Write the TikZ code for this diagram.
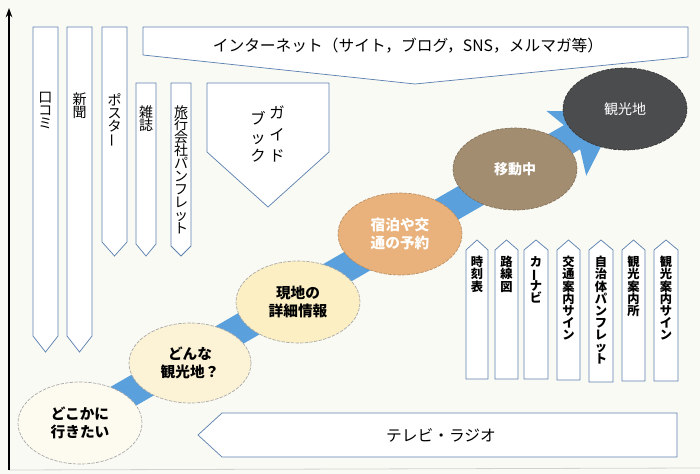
\documentclass[tikz,border=0pt]{standalone}
\usepackage{fontspec}
\usepackage{graphicx}
\usetikzlibrary{shapes.geometric,arrows.meta}
\newfontfamily\jp{Noto Sans CJK JP}
\newcommand\chouon{\rotatebox[origin=c]{90}{ー}}
\AtBeginDocument{\lineskiplimit=-20pt\relax}
\definecolor{bgc}{HTML}{FAFAF5}
\definecolor{boxc}{HTML}{5E82B0}
\definecolor{bandc}{HTML}{5AA0DC}
\definecolor{ea}{HTML}{FDFBF0}
\definecolor{eb}{HTML}{FCF3D6}
\definecolor{ec}{HTML}{FCEFC4}
\definecolor{ed}{HTML}{E9B27C}
\definecolor{ee}{HTML}{A38D70}
\definecolor{ef}{HTML}{4B4C4E}
\tikzset{
  boxline/.style={draw=boxc, line width=0.55pt, fill=white},
  vlab/.style={anchor=north, inner sep=0pt, align=center,
    font=\jp\fontsize{10.5}{9.7}\selectfont},
  vlabr/.style={anchor=north, inner sep=0pt, align=center,
    font=\jp\bfseries\fontsize{9.2}{9.1}\selectfont},
  stage/.style={ellipse, draw=gray!70, dash pattern=on 2.5pt off 1pt, line width=0.5pt,
    minimum width=93pt, minimum height=61.5pt, inner sep=0pt, align=center,
    font=\jp\bfseries\fontsize{11}{13}\selectfont},
  banner/.style={inner sep=0pt, font=\jp\fontsize{11.8}{13}\selectfont}
}
\newcommand\dnbox[5]{\draw[boxline] (#1,#3) -- (#2,#3) -- (#2,#4) -- ({(#1+#2)/2},#5) -- (#1,#4) -- cycle;}
\newcommand\upbox[5]{\draw[boxline] (#1,#5) -- (#2,#5) -- (#2,#4) -- ({(#1+#2)/2},#3) -- (#1,#4) -- cycle;}
\begin{document}
\begin{tikzpicture}[x=0.75pt,y=-0.75pt]
\useasboundingbox (0,0) rectangle (700,474);
\fill[bgc] (0,0) rectangle (700,474);
% axis
\coordinate (ax0) at (9,470);
\coordinate (ax1) at (9,8);
\coordinate (axr) at (700,468);
\draw[gray!35, line width=0.6pt] (ax0) -- (axr);
\draw[line width=0.9pt, -{Stealth[length=7pt,width=5pt]}] (ax0) -- (ax1);
% left downward boxes
\dnbox{33}{58}{27}{336}{352}
\dnbox{67}{92}{27}{336}{352}
\dnbox{102}{127}{27}{242}{256}
\dnbox{136}{156}{83}{244}{256}
\dnbox{171}{191}{83}{246}{256}
\dnbox{207}{329}{83}{152}{207}
\node[vlab] (kuchikomi) at (45.5,92) {口\\コ\\ミ};
\node[vlab] (shinbun) at (79.5,93) {新\\聞};
\node[vlab] (poster) at (114.5,93) {ポ\\ス\\タ\\\chouon};
\node[vlab] (zasshi) at (146,105) {雑\\誌};
\node[vlab] (pamph) at (181,105) {旅\\行\\会\\社\\パ\\ン\\フ\\レ\\ッ\\ト};
\node[vlab, font=\jp\fontsize{11.5}{16}\selectfont] (guide1) at (277,106) {ガ\\イ\\ド};
\node[vlab, font=\jp\fontsize{11.5}{14}\selectfont] (guide2) at (258,111) {ブ\\ッ\\ク};
% internet banner
\draw[boxline] (143,27) -- (688,27) -- (688,57) -- (415,84) -- (143,55) -- cycle;
\node[banner] (internet) at (408,46) {インターネット（サイト，ブログ，SNS，メルマガ等）};
% TV banner
\draw[boxline] (222,413) -- (677,413) -- (677,457) -- (222,457) -- (198,435) -- cycle;
\node[banner] (tv) at (441,435) {テレビ・ラジオ};
% right upward boxes
\upbox{466}{488}{240}{250}{379}
\upbox{495}{518}{240}{250}{379}
\upbox{524}{548}{240}{250}{379}
\upbox{557}{580}{240}{250}{380}
\upbox{589}{613}{240}{250}{382}
\upbox{622}{645}{240}{250}{381}
\upbox{654}{678}{240}{250}{381}
\node[vlabr] (jikoku) at (477,256) {時\\刻\\表};
\node[vlabr] (rosen) at (506.5,256) {路\\線\\図};
\node[vlabr] (carnavi) at (536,256) {カ\\\chouon\\ナ\\ビ};
\node[vlabr] (kotsu) at (568.5,256) {交\\通\\案\\内\\サ\\イ\\ン};
\node[vlabr] (jichitai) at (601,256) {自\\治\\体\\パ\\ン\\フ\\レ\\ッ\\ト};
\node[vlabr] (annaisho) at (633.5,256) {観\\光\\案\\内\\所};
\node[vlabr] (annaisign) at (666,256) {観\\光\\案\\内\\サ\\イ\\ン};
% blue band arrow
\begin{scope}[shift={(80,423)}, rotate=30]
\fill[bandc] (0,-16) -- (568,-16) -- (560,-37) -- (622,0) -- (562,39) -- (570,13) -- (0,13) -- cycle;
\end{scope}
% stages
\node[stage, fill=ea] (s1) at (80,423) {どこかに\\行きたい};
\node[stage, fill=eb, minimum width=91.5pt, minimum height=60pt] (s2) at (190,363) {どんな\\観光地？};
\node[stage, fill=ec] (s3) at (298,302) {現地の\\詳細情報};
\node[stage, fill=ed, draw=ed!80!black, text=white] (s4) at (400,234) {宿泊や交\\通の予約};
\node[stage, fill=ee, draw=ee!80!black, text=white, font=\jp\bfseries\fontsize{10.5}{12}\selectfont] (s5) at (515,169) {移動中};
\node[stage, fill=ef, draw=ef!70!black, text=white, font=\jp\fontsize{10.5}{12}\selectfont] (s6) at (625,109) {観光地};
\end{tikzpicture}
\end{document}
